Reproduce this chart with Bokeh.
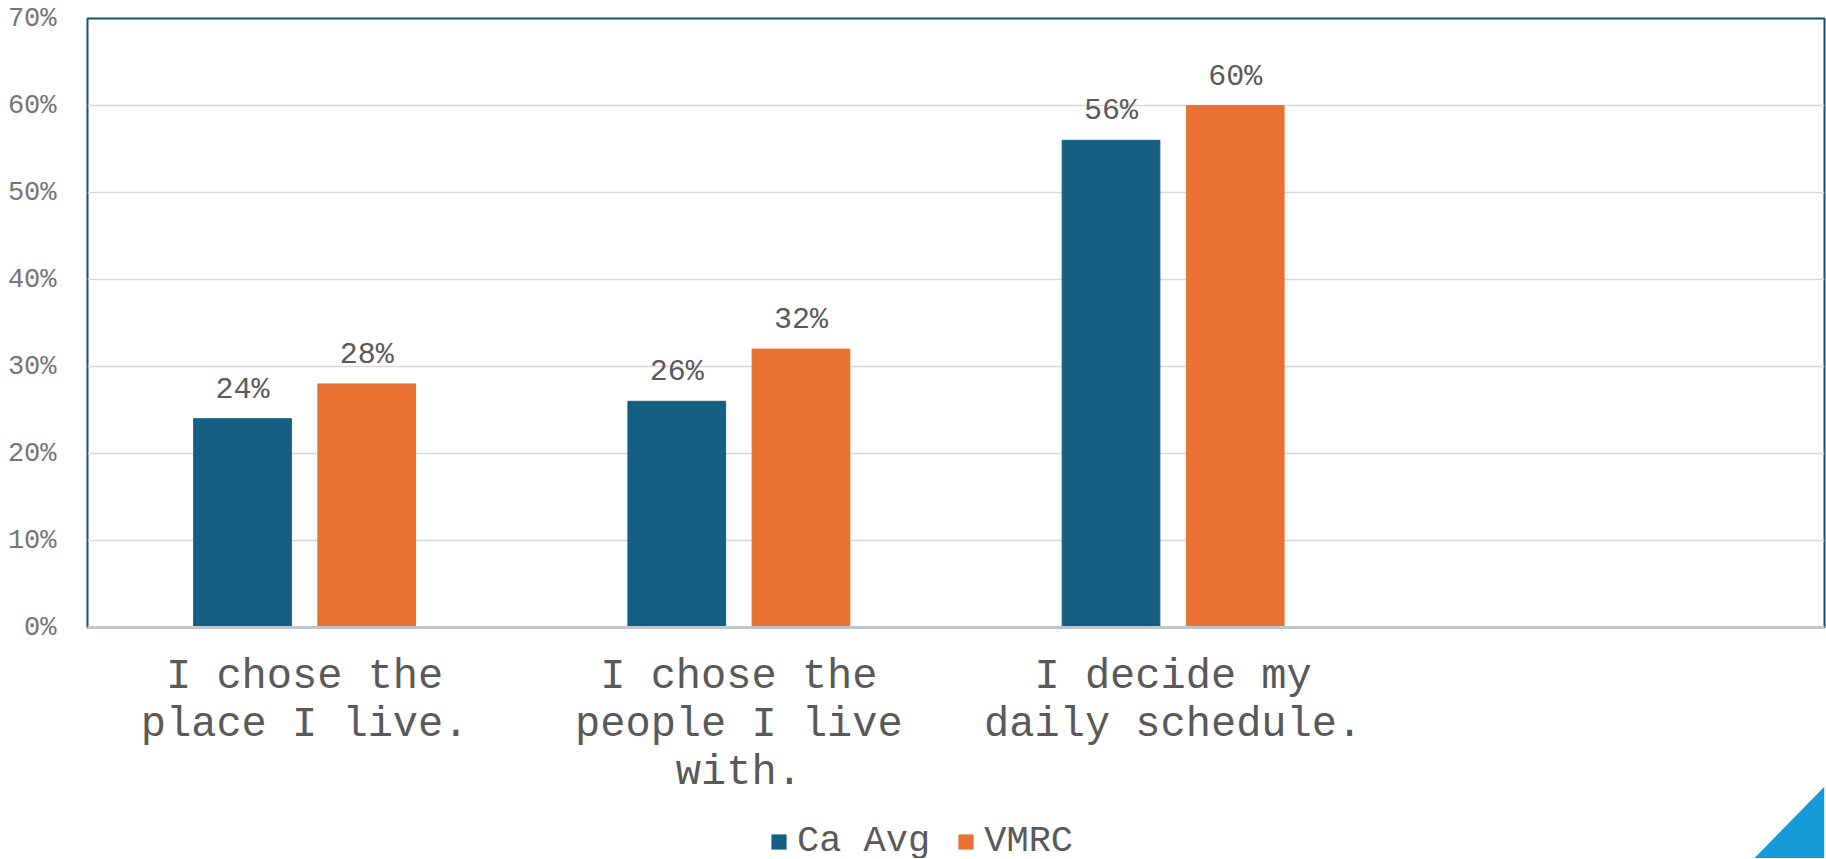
from bokeh.plotting import figure
from bokeh.layouts import column
from bokeh.models import (FactorRange, Range1d, FixedTicker, PrintfTickFormatter,
                          Legend, LegendItem, ColumnDataSource)
from bokeh.transform import dodge
from bokeh.core.properties import value
from bokeh.embed import file_html
from bokeh.resources import INLINE

# Survey statements (wrapped as printed) and the share answering yes
categories = ["I chose the\nplace I live.",
              "I chose the\npeople I live\nwith.",
              "I decide my\ndaily schedule."]
ca_avg = [24, 26, 56]
vmrc = [28, 32, 60]
series_names = ["Ca Avg", "VMRC"]
y_ticks = [0, 10, 20, 30, 40, 50, 60, 70]

FONT = "Liberation Mono"
BLUE = "#155f82"
ORANGE = "#e97132"
ACCENT = "#139cd8"
W = 1826
STRIP_H = 72
CORNER_W = 74

factors = categories + [" "]
source = ColumnDataSource(dict(
    cat=categories,
    ca=ca_avg,
    vm=vmrc,
    ca_lbl=[f"{v}%" for v in ca_avg],
    vm_lbl=[f"{v}%" for v in vmrc],
))

# ---- main bar chart ----
p = figure(x_range=FactorRange(factors=factors, range_padding=0),
           y_range=Range1d(0, 70),
           frame_width=1737, frame_height=609,
           min_border_left=87, min_border_right=2,
           min_border_top=18, min_border_bottom=162,
           output_backend="svg", toolbar_location=None,
           background_fill_color="white", border_fill_color="white")

r_ca = p.vbar(x=dodge("cat", -0.143, range=p.x_range), top="ca", width=0.225,
              source=source, fill_color=BLUE, line_color=BLUE)
r_vm = p.vbar(x=dodge("cat", 0.143, range=p.x_range), top="vm", width=0.225,
              source=source, fill_color=ORANGE, line_color=ORANGE)

for col, off in (("ca", -0.143), ("vm", 0.143)):
    p.text(x=dodge("cat", off, range=p.x_range), y=col, text=col + "_lbl",
           source=source, y_offset=-29, text_align="center",
           text_baseline="alphabetic", text_font=value(FONT),
           text_font_size="30px", text_color="#595959")

p.outline_line_color = "#1a4d66"
p.outline_line_width = 2
p.xgrid.grid_line_color = None
p.ygrid.grid_line_color = "#d9d9d9"
p.ygrid.grid_line_width = 1.5

p.yaxis.ticker = FixedTicker(ticks=y_ticks)
p.yaxis.formatter = PrintfTickFormatter(format="%d%%")
p.yaxis.axis_line_color = None
p.yaxis.major_tick_line_color = None
p.yaxis.minor_tick_line_color = None
p.yaxis.major_label_standoff = 25
p.yaxis.major_label_text_font = FONT
p.yaxis.major_label_text_font_size = "27px"
p.yaxis.major_label_text_color = "#767676"

p.xaxis.axis_line_color = "#bcc8cd"
p.xaxis.axis_line_width = 3
p.xaxis.major_tick_line_color = None
p.xaxis.minor_tick_line_color = None
p.xaxis.major_label_standoff = 19
p.xaxis.major_label_text_font = FONT
p.xaxis.major_label_text_font_size = "42px"
p.xaxis.major_label_text_line_height = 1.0
p.xaxis.major_label_text_color = "#595959"
p.xaxis.major_label_orientation = "horizontal"

# ---- bottom strip: legend and corner accent, tucked up under the labels ----
s = figure(x_range=Range1d(0, W), y_range=Range1d(0, STRIP_H),
           width=W, height=STRIP_H, min_border=0,
           x_axis_type=None, y_axis_type=None,
           output_backend="svg", toolbar_location=None,
           margin=(-13, 0, 0, 0))
s.grid.grid_line_color = None
s.outline_line_color = None
s.background_fill_alpha = 0
s.border_fill_alpha = 0

# legend keys carry no visible geometry of their own
nan = float("nan")
k_ca = s.vbar(x=[nan], top=[nan], width=1, fill_color=BLUE, line_color=None)
k_vm = s.vbar(x=[nan], top=[nan], width=1, fill_color=ORANGE, line_color=None)

s.patch(x=[W - CORNER_W, W, W], y=[0, STRIP_H, 0],
        fill_color=ACCENT, line_color=None)

legend = Legend(items=[LegendItem(label=series_names[0], renderers=[k_ca]),
                       LegendItem(label=series_names[1], renderers=[k_vm])],
                orientation="horizontal", location=(682, -4),
                label_text_font=FONT, label_text_font_size="37px",
                label_text_color="#595959", glyph_width=19, glyph_height=19,
                label_standoff=9, spacing=26, padding=0, margin=0,
                border_line_color=None, background_fill_alpha=0)
s.add_layout(legend, "center")

layout = column(p, s, spacing=0)
open("out.html", "w").write(file_html(layout, INLINE))
